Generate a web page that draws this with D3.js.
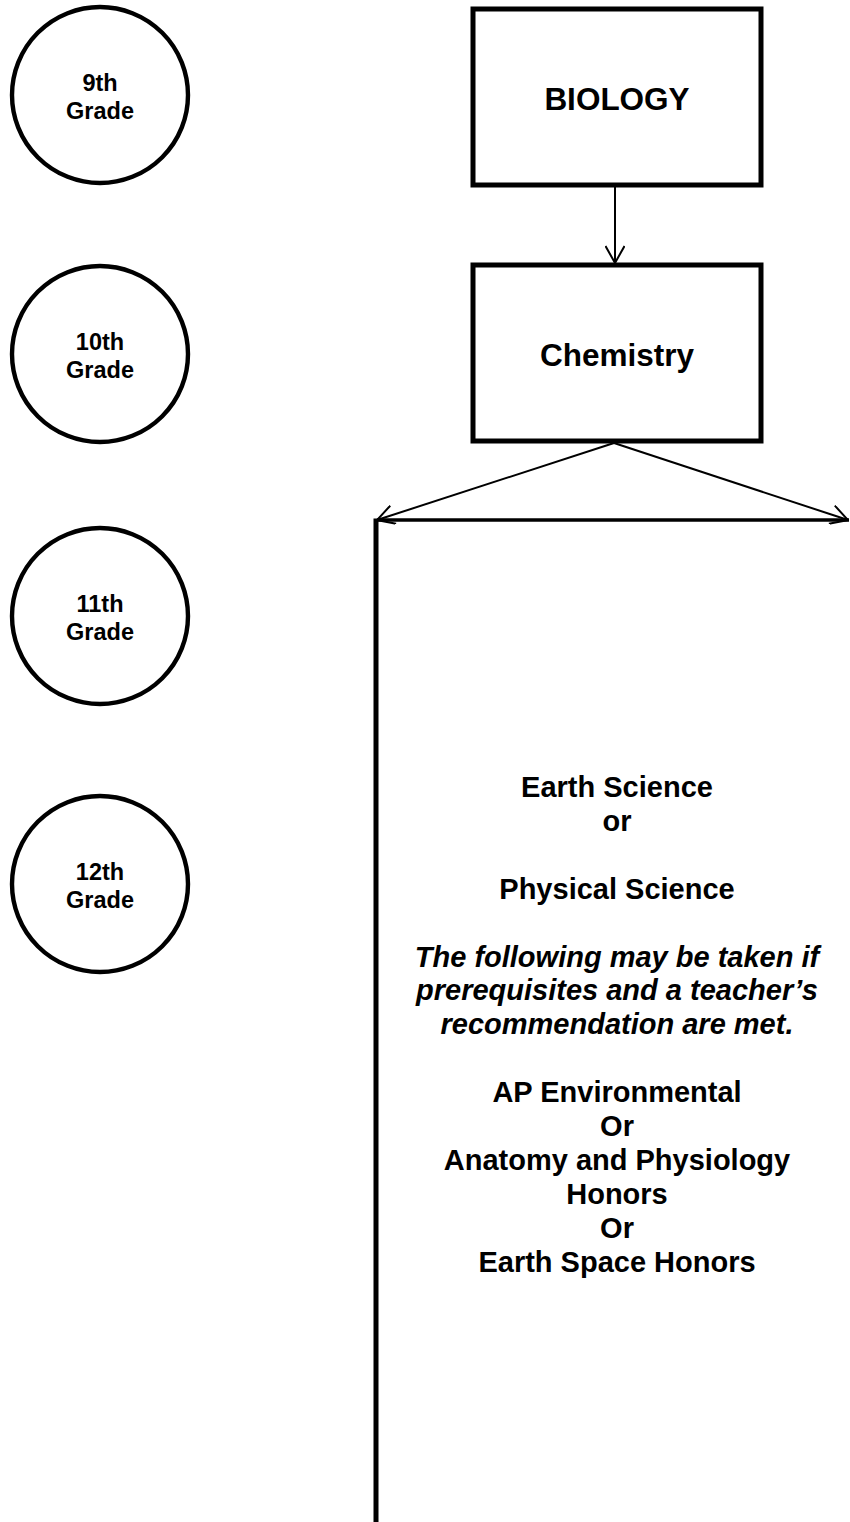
<!DOCTYPE html>
<html>
<head>
<meta charset="utf-8">
<script src="https://cdn.jsdelivr.net/npm/d3@7.9.0/dist/d3.min.js"></script>
<style>
    body { margin: 0; background: #fff; }
    svg { display: block; }
    text { font-family: "Liberation Sans", Arial, sans-serif; font-weight: bold; fill: #000; }
</style>
</head>
<body>
<div id="chart"></div>
<script>
// grade bubbles down the left side
const grades = ['9th', '10th', '11th', '12th'];
const gradeWord = 'Grade';

// required courses (boxes)
const courses = ['BIOLOGY', 'Chemistry'];

// 11th / 12th grade options, one entry per line ('' = blank line)
const optionLines = [
    'Earth Science',
    'or',
    '',
    'Physical Science',
    '',
    'The following may be taken if',
    'prerequisites and a teacher\u2019s',
    'recommendation are met.',
    '',
    'AP Environmental',
    'Or',
    'Anatomy and Physiology',
    'Honors',
    'Or',
    'Earth Space Honors',
];
const italicLines = [5, 6, 7];

const width = 850;
const height = 1522;

const svg = d3.select('#chart')
    .append('svg')
    .attr('width', width)
    .attr('height', height);

svg.append('defs').append('marker')
    .attr('id', 'arrow')
    .attr('viewBox', '0 0 20 20')
    .attr('refX', 19)
    .attr('refY', 10)
    .attr('markerWidth', 20)
    .attr('markerHeight', 20)
    .attr('markerUnits', 'userSpaceOnUse')
    .attr('orient', 'auto')
    .append('path')
    .attr('d', 'M2,0.5 L19,10 L2,19.5')
    .attr('fill', 'none')
    .attr('stroke', '#000')
    .attr('stroke-width', 2);

// layout scales
const gradeY = d3.scaleOrdinal().domain(grades).range([95, 354, 616, 884]);
const courseY = d3.scalePoint().domain(courses).range([97, 353]);
const lineY = d3.scaleLinear().domain([0, optionLines.length - 1]).range([797, 797 + 33.9 * (optionLines.length - 1)]);

const colX = 617;
const boxW = 288, boxH = 176;

// grade circles
const g = svg.selectAll('g.grade')
    .data(grades)
    .join('g')
    .attr('class', 'grade')
    .attr('transform', (d) => `translate(100,${gradeY(d)})`);

g.append('circle')
    .attr('r', 88)
    .attr('fill', '#fff')
    .attr('stroke', '#000')
    .attr('stroke-width', 4.4);

g.append('text')
    .attr('text-anchor', 'middle')
    .attr('y', -4)
    .attr('font-size', 23.5)
    .text((d) => d);

g.append('text')
    .attr('text-anchor', 'middle')
    .attr('y', 24)
    .attr('font-size', 23.5)
    .text(gradeWord);

// course boxes
const b = svg.selectAll('g.course')
    .data(courses)
    .join('g')
    .attr('class', 'course')
    .attr('transform', (d) => `translate(${colX},${courseY(d)})`);

b.append('rect')
    .attr('x', -boxW / 2)
    .attr('y', -boxH / 2)
    .attr('width', boxW)
    .attr('height', boxH)
    .attr('fill', '#fff')
    .attr('stroke', '#000')
    .attr('stroke-width', 5);

b.append('text')
    .attr('text-anchor', 'middle')
    .attr('y', 13)
    .attr('font-size', 31.5)
    .text((d) => d);

// Biology -> Chemistry
svg.append('line')
    .attr('x1', 615).attr('y1', courseY(courses[0]) + boxH / 2 + 2)
    .attr('x2', 615).attr('y2', courseY(courses[1]) - boxH / 2 - 2)
    .attr('stroke', '#000')
    .attr('stroke-width', 2)
    .attr('marker-end', 'url(#arrow)');

// branch out of Chemistry
const branchTop = courseY(courses[1]) + boxH / 2 + 2;
const barY = 520;
const barL = 377, barR = 848;

svg.append('line')
    .attr('x1', barL).attr('y1', barY)
    .attr('x2', barR + 1).attr('y2', barY)
    .attr('stroke', '#000')
    .attr('stroke-width', 3.5);

svg.append('line')
    .attr('x1', barL - 1).attr('y1', barY - 1.5)
    .attr('x2', barL - 1).attr('y2', height)
    .attr('stroke', '#000')
    .attr('stroke-width', 5);

[barL, barR].forEach((x) => {
    svg.append('line')
        .attr('x1', 614).attr('y1', branchTop)
        .attr('x2', x).attr('y2', barY)
        .attr('stroke', '#000')
        .attr('stroke-width', 2)
        .attr('marker-end', 'url(#arrow)');
});

// options text
svg.append('g')
    .selectAll('text')
    .data(optionLines)
    .join('text')
    .attr('x', colX)
    .attr('y', (d, i) => lineY(i))
    .attr('text-anchor', 'middle')
    .attr('font-size', 29)
    .attr('font-style', (d, i) => italicLines.includes(i) ? 'italic' : 'normal')
    .text((d) => d);
</script>
</body>
</html>
